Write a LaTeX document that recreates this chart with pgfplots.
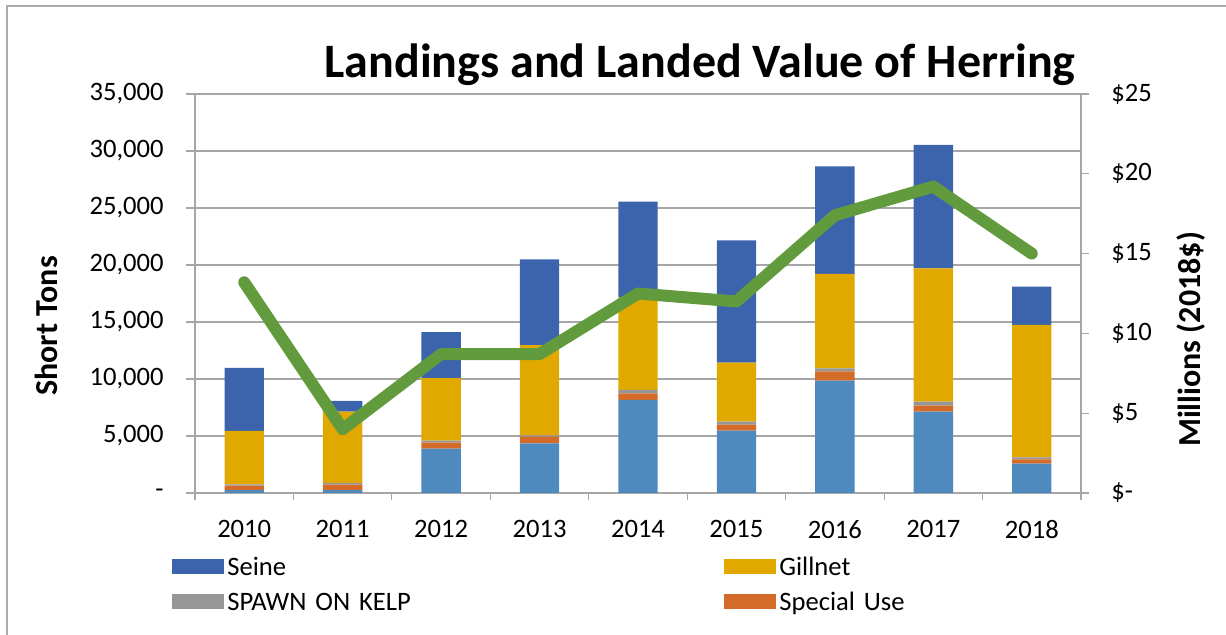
\documentclass[border=0pt]{standalone}
\usepackage{fontspec}
\setmainfont{Carlito}
\usepackage{pgfplots}
\pgfplotsset{compat=1.18}
\definecolor{seine}{RGB}{59,100,173}
\definecolor{gillnet}{RGB}{225,169,0}
\definecolor{spawn}{RGB}{150,150,150}
\definecolor{special}{RGB}{212,107,41}
\definecolor{lb}{RGB}{78,138,190}
\definecolor{valgreen}{RGB}{98,155,61}
\definecolor{gridgray}{RGB}{166,166,166}
\definecolor{framegray}{RGB}{170,170,170}
\begin{document}
\begin{tikzpicture}
\path[use as bounding box] (0,0) rectangle (613pt,317.5pt);
\draw[framegray, line width=0.7pt] (3.5pt,0) -- (3.5pt,314.5pt) -- (613pt,314.5pt);
\begin{axis}[
  at={(97.5pt,71pt)}, anchor=south west,
  width=443pt, height=199.5pt, scale only axis,
  xmin=-0.5, xmax=8.5, ymin=0, ymax=35000,
  scaled y ticks=false,
  ybar stacked, bar width=0.4,
  axis x line*=bottom, axis y line*=left,
  axis line style={gridgray, line width=0.6pt},
  xtick={0,1,2,3,4,5,6,7,8},
  xticklabels={2010,2011,2012,2013,2014,2015,2016,2017,2018},
  minor xtick={-0.5,0.5,1.5,2.5,3.5,4.5,5.5,6.5,7.5,8.5},
  every major x tick/.append style={draw=none},
  tick align=outside, major tick length=4.5pt, minor tick length=3.5pt,
  tick style={gridgray, line width=0.6pt},
  ytick={0,5000,10000,15000,20000,25000,30000,35000},
  yticklabels={-,{5,000},{10,000},{15,000},{20,000},{25,000},{30,000},{35,000}},
  ymajorgrids, grid style={gridgray, line width=0.6pt},
  ticklabel style={font=\fontsize{13.3}{16}\selectfont},
  yticklabel style={inner sep=0pt, xshift=-11pt},
  xticklabel style={inner sep=0pt, yshift=-9pt},
  reverse legend,
  legend columns=2,
  legend cell align=left,
  legend style={at={(-0.026,-0.155)}, anchor=north west, draw=none, fill=none,
    font=\fontsize{13.3}{16}\selectfont, inner sep=0pt, row sep=4.5pt,
    nodes={inner sep=0pt, text height=10pt, text depth=3pt, text width=240pt},
    /tikz/every even column/.append style={column sep=8.5pt},
    /tikz/every odd column/.append style={column sep=1.5pt}},
  legend image code/.code={\fill[#1] (0pt,-2.95pt) rectangle (26pt,4.55pt);},
]
\addplot[fill=lb, draw=none, forget plot] coordinates {(0,260) (1,260) (2,3890) (3,4360) (4,8160) (5,5470) (6,9850) (7,7130) (8,2570)};
\addplot[fill=special, draw=none] coordinates {(0,380) (1,470) (2,520) (3,580) (4,585) (5,520) (6,820) (7,530) (8,385)};
\addlegendentry{Special Use}
\addplot[fill=spawn, draw=none] coordinates {(0,120) (1,150) (2,180) (3,120) (4,290) (5,260) (6,270) (7,350) (8,175)};
\addlegendentry{SPAWN ON KELP}
\addplot[fill=gillnet, draw=none] coordinates {(0,4680) (1,6250) (2,5490) (3,7920) (4,8155) (5,5180) (6,8270) (7,11700) (8,11610)};
\addlegendentry{Gillnet}
\addplot[fill=seine, draw=none] coordinates {(0,5525) (1,940) (2,4040) (3,7520) (4,8360) (5,10740) (6,9450) (7,10820) (8,3360)};
\addlegendentry{Seine}
\end{axis}
\begin{axis}[
  at={(97.5pt,71pt)}, anchor=south west,
  width=443pt, height=199.5pt, scale only axis,
  xmin=-0.5, xmax=8.5, ymin=0, ymax=25,
  axis y line*=right, axis x line=none,
  axis line style={gridgray, line width=0.6pt},
  tick align=outside, major tick length=4pt,
  tick style={gridgray, line width=0.6pt},
  ytick={0,5,10,15,20,25},
  yticklabels={\$-,\$5,\$10,\$15,\$20,\$25},
  ticklabel style={font=\fontsize{13.3}{16}\selectfont},
  yticklabel style={inner sep=0pt, xshift=11pt},
]
\addplot[valgreen, line width=6pt, line join=round, line cap=round] coordinates {(0,13.2) (1,4.0) (2,8.7) (3,8.7) (4,12.5) (5,12.0) (6,17.4) (7,19.2) (8,15.0)};
\end{axis}
\node[anchor=base, font=\fontsize{24}{28}\selectfont\bfseries] at (350pt,278.5pt) {Landings and Landed Value of Herring};
\node[anchor=base, rotate=90, font=\fontsize{16}{19}\selectfont\bfseries] at (28.5pt,154.5pt) {Short Tons};
\node[anchor=base, rotate=90, font=\fontsize{16}{19}\selectfont\bfseries] at (600.3pt,147.75pt) {Millions (2018\$)};
\end{tikzpicture}
\end{document}
